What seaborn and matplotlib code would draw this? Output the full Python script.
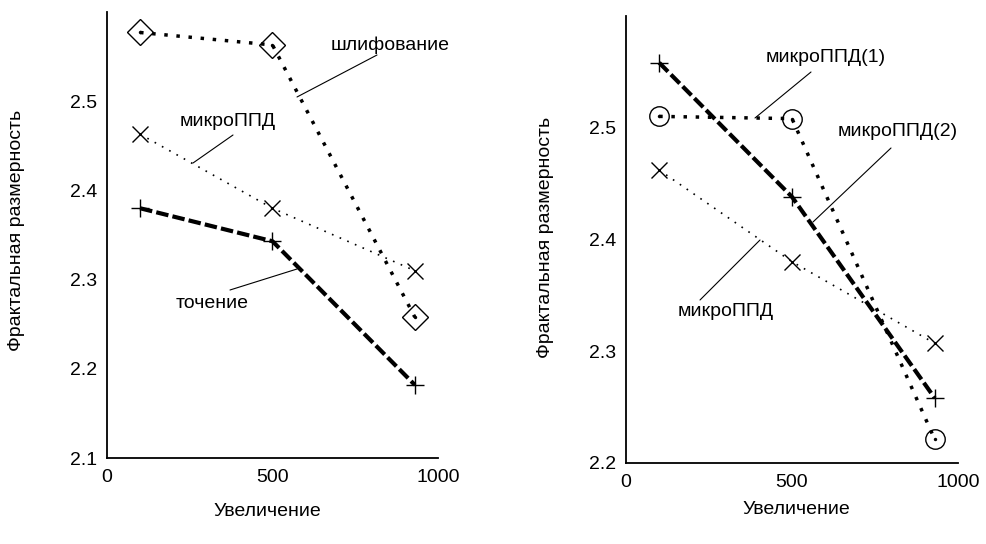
import seaborn as sns
import pandas as pd
import matplotlib.pyplot as plt

sns.set_theme(style='white')
plt.rcParams['font.family'] = ['Liberation Sans', 'DejaVu Sans']

magnification = [100, 500, 930]

# left panel
grinding = [2.577, 2.563, 2.258]
micro_left = [2.463, 2.380, 2.310]
turning = [2.380, 2.343, 2.182]

# right panel
micro1 = [2.510, 2.508, 2.221]
micro2 = [2.558, 2.438, 2.258]
micro_right = [2.462, 2.380, 2.307]

x_ticks = [0, 500, 1000]
left_yticks = [2.1, 2.2, 2.3, 2.4, 2.5]
right_yticks = [2.2, 2.3, 2.4, 2.5]

xlabel = 'Увеличение'
ylabel = 'Фрактальная размерность'

W, H = 986, 544
fig = plt.figure(figsize=(W / 100, H / 100), dpi=100)
ax1 = fig.add_axes([0.1085, 0.158, 0.3357, 0.820])
ax2 = fig.add_axes([0.6349, 0.149, 0.3367, 0.822])


def series(ax, y, ls, lw, marker, ms, center_dot=False, mfc='none'):
    df = pd.DataFrame({'x': magnification, 'y': y})
    sns.lineplot(data=df, x='x', y='y', ax=ax, color='black', linestyle=ls, linewidth=lw,
                 marker=marker, markersize=ms, markerfacecolor=mfc, markeredgecolor='black',
                 markeredgewidth=1.0, sort=False)
    if center_dot:
        sns.scatterplot(data=df, x='x', y='y', ax=ax, color='black', s=6, linewidth=0)


def style_axis(ax, yticks, ylim):
    ax.set_xlim(0, 1000)
    ax.set_ylim(*ylim)
    ax.set_xticks(x_ticks)
    ax.set_yticks(yticks)
    ax.set_xticklabels([str(t) for t in x_ticks])
    ax.set_yticklabels([str(t) for t in yticks])
    for side in ['top', 'right']:
        ax.spines[side].set_visible(False)
    for side in ['left', 'bottom']:
        ax.spines[side].set_color('black')
        ax.spines[side].set_linewidth(1.3)
    ax.tick_params(axis='x', direction='inout', length=10, width=1.3, labelsize=14, pad=3, colors='black')
    ax.tick_params(axis='y', direction='out', length=6, width=1.3, labelsize=14, pad=1, colors='black')
    ax.set_xlabel('')
    ax.set_ylabel('')


def label(x, y, s, **kw):
    fig.text(x / W, 1 - y / H, s, fontsize=14, ha='center', va='center', color='black', **kw)


def leader(x0, y0, x1, y1):
    fig.add_artist(plt.Line2D([x0 / W, x1 / W], [1 - y0 / H, 1 - y1 / H], color='black', lw=0.8))


# left
series(ax1, grinding, (0, (1, 2.5)), 2.5, 'D', 13, center_dot=True)
series(ax1, micro_left, (0, (1, 4)), 1.2, 'x', 11)
series(ax1, turning, (0, (3, 1)), 3.0, '+', 13)
style_axis(ax1, left_yticks, (2.1, 2.6))

label(390, 45, 'шлифование')
leader(377, 55, 297, 97)
label(228, 122, 'микроППД')
leader(233, 135, 193, 163)
label(212, 303, 'точение')
leader(230, 290, 297, 269)
label(17, 230, ylabel, rotation=90)
label(267, 512, xlabel)

# right
series(ax2, micro1, (0, (1, 2.5)), 2.5, 'o', 14, center_dot=True)
series(ax2, micro2, (0, (3, 1)), 3.0, '+', 13)
series(ax2, micro_right, (0, (1, 4)), 1.2, 'x', 11)
style_axis(ax2, right_yticks, (2.2, 2.6))

label(826, 58, 'микроППД(1)')
leader(811, 72, 755, 118)
label(898, 132, 'микроППД(2)')
leader(891, 148, 813, 222)
label(726, 312, 'микроППД')
leader(700, 300, 760, 240)
label(545, 237, ylabel, rotation=90)
label(796, 510, xlabel)

fig.savefig('out.png', dpi=100)
